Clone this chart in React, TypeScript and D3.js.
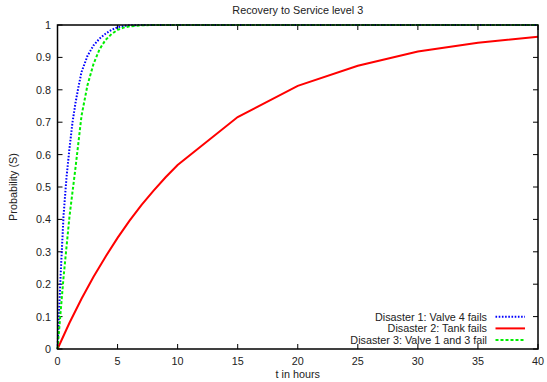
import React from "react";
import * as d3 from "d3";

const title = "Recovery to Service level 3";
const xLabel = "t in hours";
const yLabel = "Probability (S)";

const xTicks = [0, 5, 10, 15, 20, 25, 30, 35, 40];
const yTicks = [0, 0.1, 0.2, 0.3, 0.4, 0.5, 0.6, 0.7, 0.8, 0.9, 1];

const blueT = [0, 0.25, 0.5, 0.75, 1, 1.25, 1.5, 1.75, 2, 2.5, 3, 3.5, 4, 4.5, 5, 5.5, 6, 7, 10, 15, 20, 25, 30, 35, 40];
const blueS = [0, 0.22, 0.41, 0.53, 0.62, 0.7, 0.76, 0.81, 0.855, 0.905, 0.937, 0.958, 0.973, 0.985, 0.993, 0.997, 0.999, 1, 1, 1, 1, 1, 1, 1, 1];

const redT = [0, 1, 2, 3, 4, 5, 6, 7, 8, 9, 10, 15, 20, 25, 30, 35, 40];
const redS = [0, 0.081, 0.155, 0.223, 0.285, 0.343, 0.396, 0.445, 0.489, 0.53, 0.568, 0.716, 0.812, 0.874, 0.918, 0.945, 0.964];

const greenT = [0, 0.5, 1, 1.5, 2, 2.5, 3, 3.5, 4, 4.5, 5, 5.5, 6, 7, 8, 10, 15, 20, 25, 30, 35, 40];
const greenS = [0, 0.22, 0.41, 0.56, 0.72, 0.815, 0.88, 0.925, 0.954, 0.972, 0.985, 0.992, 0.996, 0.999, 1, 1, 1, 1, 1, 1, 1, 1];

const seriesNames = ["Disaster 1: Valve 4 fails", "Disaster 2: Tank fails", "Disaster 3: Valve 1 and 3 fail"];

export default function App() {
  const W = 547, H = 382;
  const x = d3.scaleLinear().domain([0, 40]).range([57.5, 538]);
  const y = d3.scaleLinear().domain([0, 1]).range([349, 25]);
  const line = d3.line<[number, number]>().x(d => x(d[0])).y(d => y(d[1]));
  const zip = (a: number[], b: number[]) => a.map((v, i) => [v, b[i]] as [number, number]);

  const series = [
    { name: seriesNames[0], pts: zip(blueT, blueS), color: "#0000ff", dash: "1.6,1.6", width: 2 },
    { name: seriesNames[1], pts: zip(redT, redS), color: "#ff0000", dash: undefined, width: 2 },
    { name: seriesNames[2], pts: zip(greenT, greenS), color: "#00ee00", dash: "3,2", width: 2 },
  ];

  const font = "'Liberation Sans', Arial, Helvetica, sans-serif";
  const fs = 10.8;
  const tl = 5;
  const fmt = (v: number) => (v === 0 ? "0" : v === 1 ? "1" : String(+v.toFixed(1)));

  return (
    <svg width={W} height={H} style={{ position: "absolute", left: 0, top: 0, background: "#fff" }} fontFamily={font}>
      <rect x={0} y={0} width={W} height={H} fill="#fff" />
      <text x={(x(0) + x(40)) / 2} y={14} textAnchor="middle" fontSize={fs} fill="#222">{title}</text>
      {yTicks.map(t => (
        <g key={"y" + t}>
          <line x1={x(0)} x2={x(0) + tl} y1={y(t)} y2={y(t)} stroke="#000" strokeWidth={1} />
          <line x1={x(40)} x2={x(40) - tl} y1={y(t)} y2={y(t)} stroke="#000" strokeWidth={1} />
          <text x={51} y={y(t) + 4} textAnchor="end" fontSize={fs} fill="#222">{fmt(t)}</text>
        </g>
      ))}
      {xTicks.map(t => (
        <g key={"x" + t}>
          <line x1={x(t)} x2={x(t)} y1={y(0)} y2={y(0) - tl} stroke="#000" strokeWidth={1} />
          <line x1={x(t)} x2={x(t)} y1={y(1)} y2={y(1) + tl} stroke="#000" strokeWidth={1} />
          <text x={x(t)} y={365} textAnchor="middle" fontSize={fs} fill="#222">{t}</text>
        </g>
      ))}
      <text x={(x(0) + x(40)) / 2} y={378} textAnchor="middle" fontSize={fs} fill="#222">{xLabel}</text>
      <text transform={`translate(17,${(y(0) + y(1)) / 2}) rotate(-90)`} textAnchor="middle" fontSize={fs} fill="#222">{yLabel}</text>
      {series.map(s => (
        <path key={s.name} d={line(s.pts) || ""} fill="none" stroke={s.color} strokeWidth={s.width} strokeDasharray={s.dash} />
      ))}
      {series.map((s, i) => {
        const ly = 316.7 + i * 11.7;
        return (
          <g key={"l" + i}>
            <text x={487} y={ly + 4} textAnchor="end" fontSize={fs} fill="#222">{s.name}</text>
            <line x1={495.5} x2={525} y1={ly} y2={ly} stroke={s.color} strokeWidth={s.width} strokeDasharray={s.dash} />
          </g>
        );
      })}
      <rect x={x(0)} y={y(1)} width={x(40) - x(0)} height={y(0) - y(1)} fill="none" stroke="#000" strokeWidth={1.5} />
    </svg>
  );
}
